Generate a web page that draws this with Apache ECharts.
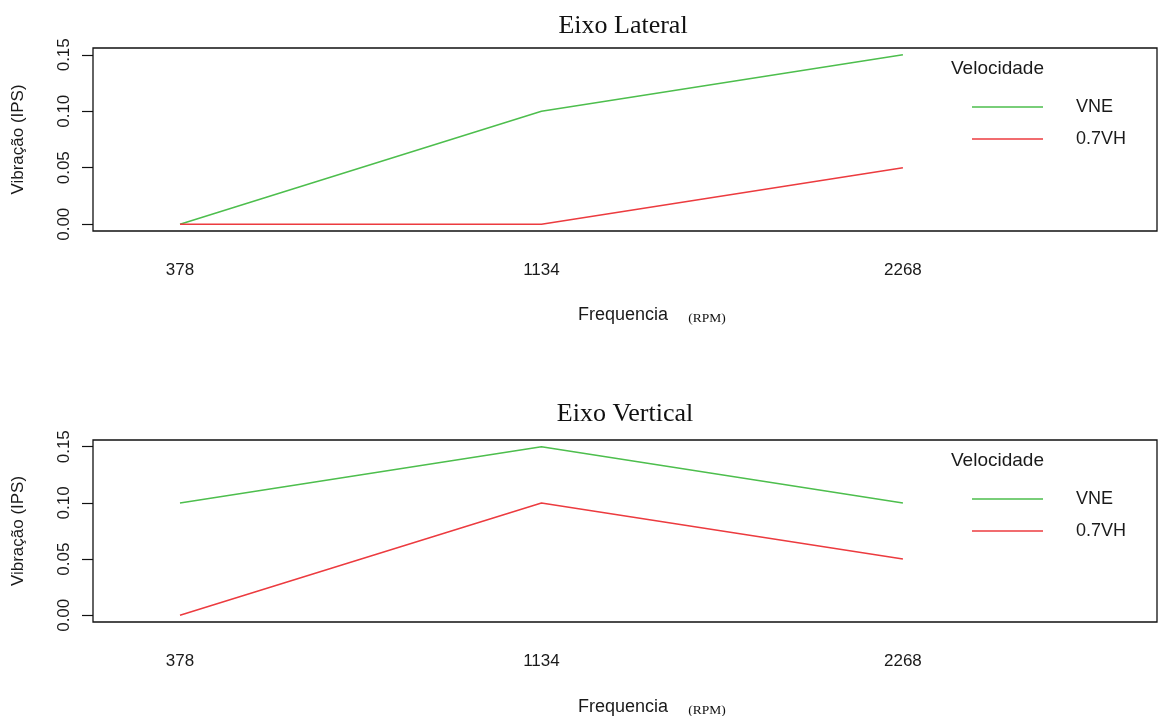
<!DOCTYPE html>
<html>
<head>
<meta charset="utf-8">
<script src="https://cdn.jsdelivr.net/npm/echarts@6/dist/echarts.min.js"></script>
<style>
  html, body { margin: 0; padding: 0; background: #fff; }
  #chart { width: 1158px; height: 716px; }
</style>
</head>
<body>
<div id="chart"></div>
<script>
// Rotational frequencies (RPM) on the x axis
const frequencias = ['378', '1134', '2268'];
const yTicks = [0, 0.05, 0.10, 0.15];

// Eixo Lateral
const lateralVNE = [0.00, 0.10, 0.15];
const lateral07VH = [0.00, 0.00, 0.05];

// Eixo Vertical
const verticalVNE = [0.10, 0.15, 0.10];
const vertical07VH = [0.00, 0.10, 0.05];

const seriesNames = ['VNE', '0.7VH'];
const GREEN = '#4DBE4D';
const RED = '#EC3B3F';

const SANS = '"Liberation Sans", Arial, sans-serif';
const SERIF = '"Liberation Serif", "Times New Roman", serif';

const toPairs = arr => arr.map((v, i) => [i, v]);

const panels = [
  { title: 'Eixo Lateral', titleX: 618, top: 48, height: 183, vne: lateralVNE, vh: lateral07VH },
  { title: 'Eixo Vertical', titleX: 620, top: 440, height: 182, vne: verticalVNE, vh: vertical07VH }
];

const grids = [], xAxes = [], yAxes = [], series = [], titles = [], legends = [];

panels.forEach((p, k) => {
  const base = p.top - 48;
  grids.push({
    left: 93, width: 1064, top: p.top, height: p.height,
    show: true, borderColor: '#111', borderWidth: 1.3, backgroundColor: 'transparent'
  });
  xAxes.push({
    gridIndex: k, type: 'value', min: -0.2407, max: 2.703,
    axisLine: { show: false, onZero: false }, axisTick: { show: false }, splitLine: { show: false },
    axisLabel: {
      customValues: [0, 1, 2],
      formatter: v => frequencias[Math.round(v)],
      margin: 31, fontSize: 17, color: '#1a1a1a', fontFamily: SANS
    }
  });
  yAxes.push({
    gridIndex: k, type: 'value', min: -0.006, max: 0.156,
    name: 'Vibração (IPS)', nameLocation: 'middle', nameGap: 66,
    nameTextStyle: { fontSize: 17, color: '#1a1a1a', fontFamily: SANS },
    axisLine: { show: false, onZero: false },
    splitLine: { show: false },
    axisTick: { show: true, customValues: yTicks, length: 11, lineStyle: { color: '#111', width: 1.2 } },
    axisLabel: {
      customValues: yTicks, rotate: 90, margin: 20,
      formatter: v => v.toFixed(2),
      fontSize: 17, color: '#1a1a1a', fontFamily: SANS
    }
  });
  series.push({
    name: seriesNames[0], type: 'line', xAxisIndex: k, yAxisIndex: k,
    data: toPairs(p.vne), showSymbol: false, symbol: 'none',
    lineStyle: { color: GREEN, width: 1.5 }, itemStyle: { color: GREEN }, animation: false
  });
  series.push({
    name: seriesNames[1], type: 'line', xAxisIndex: k, yAxisIndex: k,
    data: toPairs(p.vh), showSymbol: false, symbol: 'none',
    lineStyle: { color: RED, width: 1.5 }, itemStyle: { color: RED }, animation: false
  });
  titles.push({
    text: p.title, left: p.titleX, top: 8 + base * 0.99, textAlign: 'center',
    textStyle: { fontFamily: SERIF, fontSize: 26, fontWeight: 'normal', color: '#111' }
  });
  titles.push({
    text: '{a|Frequencia}{b|      (RPM)}', left: 573, top: 301 + base * 1.0,
    textStyle: { fontWeight: 'normal', rich: {
      a: { fontFamily: SANS, fontSize: 18, fontWeight: 'normal', color: '#1a1a1a' },
      b: { fontFamily: SERIF, fontSize: 13.5, fontWeight: 'normal', color: '#111', padding: [5, 0, 0, 0] }
    } }
  });
  titles.push({
    text: 'Velocidade', left: 946, top: 54 + base,
    textStyle: { fontFamily: SANS, fontSize: 19, fontWeight: 'normal', color: '#1a1a1a' }
  });
  legends.push({
    data: seriesNames, orient: 'vertical', left: 967, top: 93 + base,
    icon: 'rect', itemWidth: 71, itemHeight: 1.6, itemGap: 14,
    textStyle: { fontFamily: SANS, fontSize: 18, color: '#1a1a1a', padding: [0, 0, 0, 28] }
  });
});

const chart = echarts.init(document.getElementById('chart'), null, { renderer: 'canvas' });
chart.setOption({
  animation: false,
  backgroundColor: '#fff',
  title: titles,
  legend: legends,
  grid: grids,
  xAxis: xAxes,
  yAxis: yAxes,
  series: series
});
</script>
</body>
</html>
